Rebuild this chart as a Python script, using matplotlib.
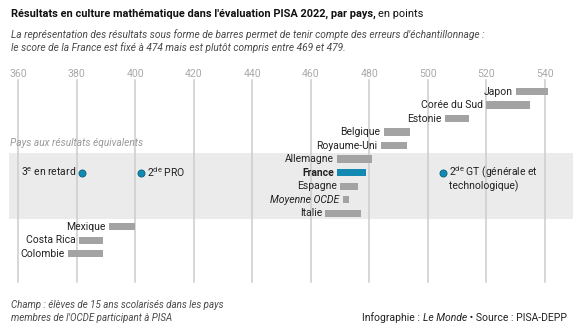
import matplotlib
matplotlib.use("Agg")
import matplotlib.pyplot as plt
from matplotlib.patches import Rectangle

plt.rcParams['font.family'] = ['Roboto', 'DejaVu Sans']
plt.rcParams['mathtext.fontset'] = 'custom'
plt.rcParams['mathtext.rm'] = 'Roboto'

# data
countries = ["Japon", "Corée du Sud", "Estonie", "Belgique", "Royaume-Uni",
             "Allemagne", "France", "Espagne", "Moyenne OCDE", "Italie",
             "Mexique", "Costa Rica", "Colombie"]
low = [530, 520, 506, 485, 484, 469, 469, 470, 471, 465, 391, 381, 377]
high = [541, 535, 514, 494, 493, 481, 479, 476, 473, 477, 400, 389, 389]
groups = ["3$^{\\mathrm{e}}$ en retard", "2$^{\\mathrm{de}}$ PRO",
          "2$^{\\mathrm{de}}$ GT (générale et"]
group_extra = "technologique)"
group_scores = [382, 402, 505]
ticks = list(range(360, 541, 20))
equiv_rows = ["Allemagne", "Italie"]  # first and last of the band

GREY_BAR = "#a3a3a3"
BLUE = "#1189b3"
TXT = "#222222"

fig = plt.figure(figsize=(5.8, 3.33), dpi=100)
ax = fig.add_axes([0, 0, 1, 1])
ax.set_xlim(353.85, 551.95)
ax.set_ylim(17.87, -6.79)
ax.axis('off')

# band of equivalent results
r0 = countries.index(equiv_rows[0]) - 0.48
r1 = countries.index(equiv_rows[1]) + 0.45
ax.add_patch(Rectangle((356.8, r0), 549.5 - 356.8, r1 - r0, color="#ebebeb", zorder=0, lw=0))
ax.text(357.2, r0 - 0.75, "Pays aux résultats équivalents", fontsize=7.3, style='italic',
        color="#999999", va='center', ha='left')

# grid lines and tick labels
for t in ticks:
    ax.plot([t, t], [-0.86, 14.1], color="#cccccc", lw=1.1, zorder=1)
    ax.text(t, -1.3, str(t), ha='center', va='center', fontsize=7.6, color="#aaaaaa")

# bars
for i, (c, lo, hi) in enumerate(zip(countries, low, high)):
    col = BLUE if c == "France" else GREY_BAR
    ax.barh(i, hi - lo, left=lo, height=0.55, color=col, zorder=2)
    kw = dict(fontsize=7.5, color=TXT)
    if c == "France":
        kw['fontweight'] = 'bold'
    if c == "Moyenne OCDE":
        kw['style'] = 'italic'
    ax.annotate(c, (lo, i), xytext=(-2.5, 0), textcoords='offset points',
                ha='right', va='center', **kw)

# school-level dots on the France row
fr = countries.index("France")
ax.scatter(group_scores, [fr] * len(group_scores), s=26, color=BLUE,
           edgecolor="#0b5f7d", linewidth=0.6, zorder=3)
ax.annotate(groups[0], (group_scores[0], fr), xytext=(-4.5, 0.5), textcoords='offset points',
            ha='right', va='center', fontsize=7.5, color=TXT)
ax.annotate(groups[1], (group_scores[1], fr), xytext=(4.5, 0.5), textcoords='offset points',
            ha='left', va='center', fontsize=7.5, color=TXT)
ax.annotate(groups[2], (group_scores[2], fr), xytext=(4.5, 0.5), textcoords='offset points',
            ha='left', va='center', fontsize=7.5, color=TXT)
ax.annotate(group_extra, (group_scores[2], fr + 1), xytext=(4.5, 0), textcoords='offset points',
            ha='left', va='center', fontsize=7.5, color=TXT)

# titles
fig.canvas.draw()
rend = fig.canvas.get_renderer()
t1 = fig.text(11 / 580, 1 - 14 / 333, "Résultats en culture mathématique dans l'évaluation PISA 2022, par pays,",
              fontsize=7.95, fontweight='bold', color="#111111", va='center', ha='left')
bb = t1.get_window_extent(rend)
fig.text(bb.x1 / 580 + 2.5 / 580, 1 - 14 / 333, "en points", fontsize=7.95, color="#111111",
         va='center', ha='left')
fig.text(11 / 580, 1 - 35 / 333,
         "La représentation des résultats sous forme de barres permet de tenir compte des erreurs d'échantillonnage :",
         fontsize=7.3, style='italic', color="#4a4a4a", va='center', ha='left')
fig.text(11 / 580, 1 - 48 / 333,
         "le score de la France est fixé à 474 mais est plutôt compris entre 469 et 479.",
         fontsize=7.3, style='italic', color="#4a4a4a", va='center', ha='left')

# footer
fig.text(11 / 580, 1 - 305 / 333, "Champ : élèves de 15 ans scolarisés dans les pays",
         fontsize=7.0, style='italic', color="#4a4a4a", va='center', ha='left')
fig.text(11 / 580, 1 - 318 / 333, "membres de l'OCDE participant à PISA",
         fontsize=7.0, style='italic', color="#4a4a4a", va='center', ha='left')

yf = 1 - 318 / 333
x = 567
parts = [(" • Source : PISA-DEPP", 'normal'), ("Le Monde", 'italic'), ("Infographie : ", 'normal')]
for s, st in parts:
    t = fig.text(x / 580, yf, s, fontsize=7.5, style=st, color="#222222", va='center', ha='right')
    x = t.get_window_extent(rend).x0

fig.savefig("out.png", dpi=100)
